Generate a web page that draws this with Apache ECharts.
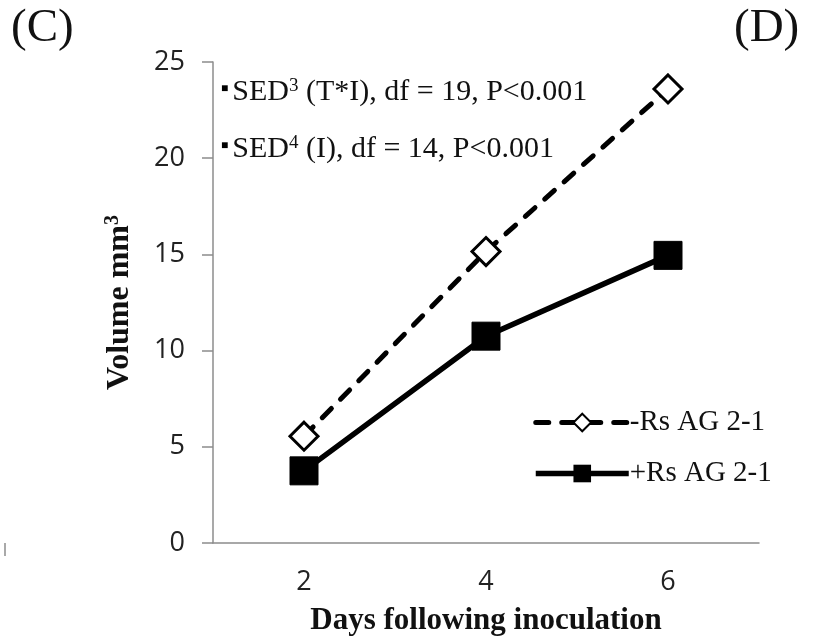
<!DOCTYPE html>
<html>
<head>
<meta charset="utf-8">
<script src="https://cdn.jsdelivr.net/npm/echarts@6/dist/echarts.min.js"></script>
<style>
  html, body { margin: 0; padding: 0; background: #fff; }
  #main { width: 821px; height: 643px; }
</style>
</head>
<body>
<div id="main"></div>
<script>
var days = ['2', '4', '6'];
var minusRs = [5.55, 15.15, 23.6];
var plusRs = [3.75, 10.75, 14.95];
var yTicks = [0, 5, 10, 15, 20, 25];

var chart = echarts.init(document.getElementById('main'));

var serif = '"Liberation Serif", "Times New Roman", serif';
var sans = '"Open Sans", sans-serif';

// rich styles for the SED notes
var noteRich = {
  b: { fontFamily: sans, fontSize: 12, fill: '#000', padding: [0, 4, 8, 0] },
  t: { fontFamily: serif, fontSize: 30, fill: '#111' },
  s: { fontFamily: serif, fontSize: 19, fill: '#111', verticalAlign: 'top', padding: [0, 0, 12, 0] }
};

var option = {
  animation: false,
  grid: { left: 213, right: 62, top: 62, bottom: 100, outerBoundsMode: 'none' },
  legend: {
    orient: 'vertical',
    left: 528,
    top: 403,
    itemWidth: 93,
    itemHeight: 22,
    itemGap: 22,
    textStyle: { fontFamily: serif, fontSize: 29, color: '#111', padding: [0, 0, 0, -4] },
    data: [
      { name: '-Rs AG 2-1', lineStyle: { width: 5 } },
      { name: '+Rs AG 2-1', lineStyle: { width: 5.5 } }
    ]
  },
  xAxis: {
    type: 'category',
    data: days,
    name: 'Days following inoculation',
    nameLocation: 'middle',
    nameGap: 62,
    nameTextStyle: { fontFamily: serif, fontWeight: 'bold', fontSize: 31, color: '#111' },
    axisLine: { lineStyle: { color: '#8c8c8c', width: 1.5 } },
    axisTick: { lineStyle: { color: '#8c8c8c', width: 1.5 }, length: 13 },
    axisLabel: { fontFamily: sans, fontSize: 27, color: '#222', margin: 26 }
  },
  yAxis: {
    type: 'value',
    min: yTicks[0],
    max: yTicks[yTicks.length - 1],
    interval: 5,
    name: '{v|Volume mm}{s|3}',
    nameLocation: 'middle',
    nameGap: 76,
    nameRotate: 90,
    nameTextStyle: {
      rich: {
        v: { fontFamily: serif, fontWeight: 'bold', fontSize: 32, color: '#111' },
        s: { fontFamily: serif, fontWeight: 'bold', fontSize: 20, color: '#111', verticalAlign: 'top', padding: [0, 0, 14, 0] }
      }
    },
    splitLine: { show: false },
    axisLine: { show: true, lineStyle: { color: '#8c8c8c', width: 1.5 } },
    axisTick: { show: true, length: 11, lineStyle: { color: '#8c8c8c', width: 1.5 } },
    axisLabel: { fontFamily: sans, fontSize: 27, color: '#222', margin: 28 }
  },
  series: [
    {
      name: '-Rs AG 2-1',
      type: 'line',
      data: minusRs,
      symbol: 'diamond',
      symbolSize: 28,
      lineStyle: { color: '#000', width: 5, type: [13, 13], cap: 'round' },
      itemStyle: { color: '#fff', borderColor: '#000', borderWidth: 3 }
    },
    {
      name: '+Rs AG 2-1',
      type: 'line',
      data: plusRs,
      symbol: 'rect',
      symbolSize: 28,
      lineStyle: { color: '#000', width: 5.5 },
      itemStyle: { color: '#000', borderColor: '#000' }
    }
  ],
  graphic: [
    { type: 'text', left: 11, top: 5, style: { text: '(C)', fontFamily: serif, fontSize: 47, fill: '#111' } },
    { type: 'text', left: 734, top: 5, style: { text: '(D)', fontFamily: serif, fontSize: 47, fill: '#111' } },
    { type: 'line', shape: { x1: 5, y1: 543, x2: 5, y2: 556 }, style: { stroke: '#8c8c8c', lineWidth: 1.5 } },
    {
      type: 'text', left: 221, top: 77,
      style: { text: '{b|■}{t|SED}{s|3}{t| (T*I), df = 19, P<0.001}', rich: noteRich }
    },
    {
      type: 'text', left: 221, top: 134,
      style: { text: '{b|■}{t|SED}{s|4}{t| (I), df = 14, P<0.001}', rich: noteRich }
    }
  ]
};

chart.setOption(option);
</script>
</body>
</html>
